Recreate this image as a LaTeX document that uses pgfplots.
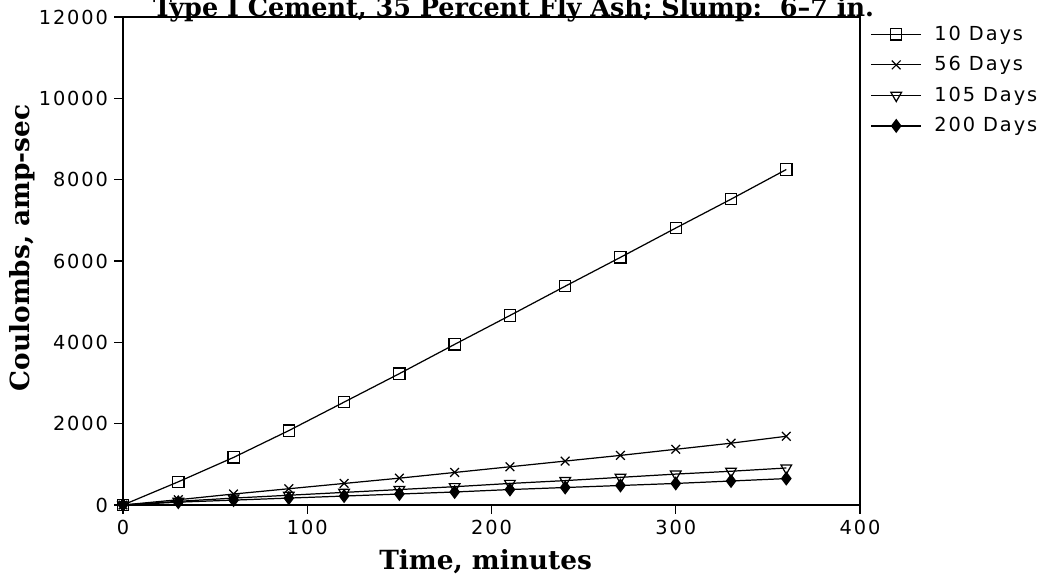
\documentclass[border=0pt]{standalone}
\usepackage{pgfplots}
\pgfplotsset{compat=1.18}
\usepackage{pgfplotstable}
\usepackage{fontspec}
\setmainfont{DejaVu Serif}
\newfontfamily\tickfont[LetterSpace=10]{DejaVu Sans}
\pgfplotstableread{
t d10 d56 d105 d200
0 0 0 0 0
30 570 130 90 70
60 1170 270 170 120
90 1830 400 240 170
120 2530 530 310 220
150 3230 660 380 270
180 3950 800 450 320
210 4660 940 530 380
240 5380 1080 600 430
270 6090 1220 680 480
300 6810 1370 760 530
330 7520 1520 830 590
360 8250 1690 910 650
}\data
\begin{document}
\begin{tikzpicture}
\begin{axis}[
 at={(0,0)}, anchor=south west,
 scale only axis, width=14.74cm, height=9.76cm,
 xmin=0, xmax=400, ymin=0, ymax=12000,
 xtick={0,100,...,400}, ytick={0,2000,...,12000},
 xtick pos=bottom, ytick pos=left,
 scaled ticks=false,
 tick align=outside, major tick length=5pt,
 tick style={black, line width=0.8pt},
 /pgf/number format/assume math mode=true,
 /pgf/number format/1000 sep={},
 tick label style={font=\tickfont\fontsize{11}{13}\selectfont},
 axis line style={line width=0.9pt},
 xlabel={\bfseries Time, minutes},
 ylabel={\bfseries Coulombs, amp-sec},
 label style={font=\fontsize{15}{17}\selectfont},
 xlabel style={at={(axis description cs:0.492,0)}, anchor=center, yshift=-1.14cm},
 ylabel style={at={(axis description cs:-0.137,0.527)}, anchor=center},
 title={\bfseries Type I Cement, 35 Percent Fly Ash; Slump:~~6--7 in.},
 every axis title/.style={at={(axis description cs:0.53,1)}, anchor=base, yshift=0.01cm, font=\fontsize{14.5}{16}\selectfont},
 clip=false,
 legend style={at={(axis description cs:1,1)}, anchor=north west, xshift=0.1cm, yshift=-0.03cm,
   draw=none, fill=none, font=\tickfont\fontsize{11}{13}\selectfont, row sep=0.13cm,
   nodes={inner xsep=0.25cm}},
 legend cell align=left,
 legend image code/.code={\draw[mark repeat=2,mark phase=2] plot coordinates {(0cm,0cm) (0.5cm,0cm) (1cm,0cm)};},
 every axis plot/.append style={black, line width=0.7pt, mark options={solid, line width=0.7pt}},
]
\addplot[mark=square, mark size=3.2pt] table[x=t,y=d10] {\data};
\addlegendentry{10 Days}
\addplot[mark=x, mark size=3.5pt] table[x=t,y=d56] {\data};
\addlegendentry{56 Days}
\addplot[mark=triangle, mark size=3.5pt, mark options={rotate=180}] table[x=t,y=d105] {\data};
\addlegendentry{105 Days}
\addplot[mark=diamond*, mark size=3.5pt] table[x=t,y=d200] {\data};
\addlegendentry{200 Days}
\end{axis}
\pgfresetboundingbox
\path (-2.46,-1.5) rectangle (18.38,10.10);
\end{tikzpicture}
\end{document}
